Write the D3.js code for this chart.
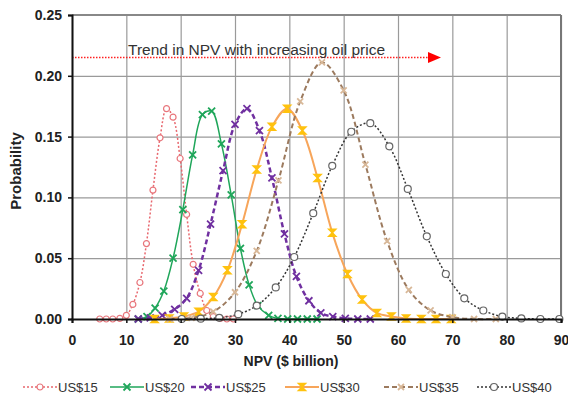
<!DOCTYPE html>
<html>
<head>
<meta charset="utf-8">
<script src="https://cdn.jsdelivr.net/npm/d3@7/dist/d3.min.js"></script>
<style>
  body { margin: 0; background: #fff; }
  text { font-family: "Liberation Sans", Arial, sans-serif; }
</style>
</head>
<body>
<div id="root"></div>
<script>
// data
const seriesNames = ["US$15", "US$20", "US$25", "US$30", "US$35", "US$40"];

const npv15  = [5.1, 6.3, 7.5, 8.8, 10.0, 11.2, 12.5, 13.7, 14.9, 16.2, 17.4, 18.6, 19.9, 21.1, 22.3, 23.6, 24.8, 26.0, 27.3, 28.5, 29.7];
const prob15 = [0, 0, 0, 0.0005, 0.003, 0.012, 0.030, 0.062, 0.106, 0.149, 0.173, 0.166, 0.132, 0.086, 0.045, 0.021, 0.007, 0.002, 0.0005, 0, 0];

const npv20  = [12.2, 13.8, 15.3, 16.9, 18.6, 20.4, 22.2, 24.0, 25.7, 27.5, 29.3, 31.0, 32.6, 34.2, 36.2, 37.9, 39.7, 41.5, 43.3, 45.1];
const prob20 = [0, 0.002, 0.009, 0.023, 0.050, 0.090, 0.135, 0.168, 0.171, 0.144, 0.102, 0.058, 0.028, 0.011, 0.003, 0.0005, 0, 0, 0, 0];

const npv25  = [12.2, 14.4, 16.6, 18.9, 21.1, 23.3, 25.5, 27.8, 30.0, 32.2, 34.5, 36.8, 39.1, 41.3, 43.6, 45.8, 48.0, 50.3, 52.6, 54.9];
const prob25 = [0, 0.001, 0.003, 0.008, 0.017, 0.040, 0.078, 0.122, 0.160, 0.173, 0.155, 0.116, 0.070, 0.035, 0.015, 0.005, 0.002, 0.0005, 0, 0];

const npv30  = [15.2, 17.9, 20.6, 23.3, 26.0, 28.6, 31.3, 34.0, 36.8, 39.6, 42.4, 45.2, 47.9, 50.7, 53.4, 56.1, 58.8, 61.5, 64.3, 67.0, 69.8];
const prob30 = [0, 0.0005, 0.002, 0.006, 0.018, 0.040, 0.078, 0.123, 0.158, 0.173, 0.155, 0.116, 0.071, 0.037, 0.016, 0.005, 0.002, 0.0005, 0, 0, 0];

const npv35  = [18, 22, 26, 30, 34, 38, 42, 46, 50, 54, 58, 62, 66, 70, 74, 78];
const prob35 = [0, 0.001, 0.006, 0.022, 0.056, 0.114, 0.179, 0.211, 0.188, 0.127, 0.064, 0.024, 0.007, 0.0015, 0, 0];

const npv40  = [20.2, 23.7, 27.1, 30.6, 34.0, 37.5, 40.9, 44.4, 47.9, 51.4, 54.9, 58.4, 61.8, 65.3, 68.8, 72.2, 75.7, 79.2, 82.7, 86.2, 89.7];
const prob40 = [0, 0.0003, 0.001, 0.004, 0.011, 0.026, 0.051, 0.087, 0.126, 0.154, 0.161, 0.142, 0.107, 0.068, 0.037, 0.017, 0.007, 0.002, 0.0005, 0, 0];

const xTicks = [0, 10, 20, 30, 40, 50, 60, 70, 80, 90];
const yTicks = [0, 0.05, 0.10, 0.15, 0.20, 0.25];
const trendLabel = "Trend in NPV with increasing oil price";
const trendLevel = 0.215;

const allX = [npv15, npv20, npv25, npv30, npv35, npv40];
const allY = [prob15, prob20, prob25, prob30, prob35, prob40];

// look of each series
const styles = [
  { line: "#e8676e", width: 1.5, dash: "2,2",  marker: "circle", mColor: "#e8767c", r: 3 },
  { line: "#1fa65a", width: 1.5, dash: null,   marker: "cross",  mColor: "#1fa65a", r: 3.5 },
  { line: "#7030a0", width: 2.5, dash: "5,3",  marker: "cross",  mColor: "#7030a0", r: 3.5 },
  { line: "#f7a55a", width: 2,   dash: null,   marker: "hour",   mColor: "#ffc20e", r: 3.5 },
  { line: "#9c7a5e", width: 2,   dash: "5,3",  marker: "cross",  mColor: "#d8b898", r: 3 },
  { line: "#333333", width: 1.5, dash: "2,2",  marker: "circle", mColor: "#666666", r: 3.5 }
];

const W = 568, H = 399;
const svg = d3.select("#root").append("svg")
  .attr("width", W).attr("height", H);

const x = d3.scaleLinear().domain([0, 90]).range([72, 561]);
const y = d3.scaleLinear().domain([0, 0.25]).range([319, 15]);

// grid
svg.append("g")
  .attr("transform", `translate(0,${y(0)})`)
  .call(d3.axisBottom(x).tickValues(xTicks).tickSize(-(y(0) - y(0.25))).tickFormat(""))
  .call(g => g.select(".domain").remove())
  .call(g => g.selectAll("line").attr("stroke", "#9a9a9a").attr("stroke-width", 1.2));
svg.append("g")
  .attr("transform", `translate(${x(0)},0)`)
  .call(d3.axisLeft(y).tickValues(yTicks).tickSize(-(x(90) - x(0))).tickFormat(""))
  .call(g => g.select(".domain").remove())
  .call(g => g.selectAll("line").attr("stroke", "#9a9a9a").attr("stroke-width", 1.2));

// frame top and right
svg.append("line").attr("x1", x(0)).attr("x2", x(90)).attr("y1", y(0.25)).attr("y2", y(0.25))
  .attr("stroke", "#888").attr("stroke-width", 2);
svg.append("line").attr("x1", x(90)).attr("x2", x(90)).attr("y1", y(0.25)).attr("y2", y(0))
  .attr("stroke", "#777").attr("stroke-width", 2);

// trend arrow
svg.append("line")
  .attr("x1", x(0)).attr("x2", 429)
  .attr("y1", y(trendLevel)).attr("y2", y(trendLevel))
  .attr("stroke", "#ff2020").attr("stroke-width", 1.5).attr("stroke-dasharray", "1.5,1.5");
svg.append("path")
  .attr("d", `M428,${y(trendLevel) - 5.5} L441,${y(trendLevel)} L428,${y(trendLevel) + 5.5} Z`)
  .attr("fill", "#ff0000");
svg.append("text")
  .attr("x", 128).attr("y", y(trendLevel) - 3)
  .attr("font-size", 15.5).attr("fill", "#333")
  .text(trendLabel);

// markers
function drawMarker(g, kind, color, r) {
  if (kind === "circle") {
    g.append("circle").attr("r", r).attr("fill", "#fff").attr("stroke", color).attr("stroke-width", 1.2);
  } else if (kind === "cross") {
    g.append("path").attr("d", `M${-r},${-r}L${r},${r}M${-r},${r}L${r},${-r}`)
      .attr("stroke", color).attr("stroke-width", 1.8).attr("fill", "none");
  } else {
    g.append("path").attr("d", `M${-r},${-r}H${r}L0,0L${r},${r}H${-r}L0,0Z`)
      .attr("fill", color).attr("stroke", color).attr("stroke-width", 1.5);
  }
}

const line = d3.line()
  .x(d => x(d[0]))
  .y(d => y(d[1]))
  .curve(d3.curveCatmullRom.alpha(0.5));

seriesNames.forEach((name, i) => {
  const st = styles[i];
  const pts = allX[i].map((v, j) => [v, allY[i][j]]);
  const g = svg.append("g").attr("class", "series");
  g.append("path")
    .attr("d", line(pts))
    .attr("fill", "none")
    .attr("stroke", st.line)
    .attr("stroke-width", st.width)
    .attr("stroke-dasharray", st.dash);
  g.selectAll(".mk").data(pts).enter().append("g")
    .attr("class", "mk")
    .attr("transform", d => `translate(${x(d[0])},${y(d[1])})`)
    .each(function () { drawMarker(d3.select(this), st.marker, st.mColor, st.r); });
});

// axes
const yAxis = svg.append("g")
  .attr("transform", `translate(${x(0)},0)`)
  .call(d3.axisLeft(y).tickValues(yTicks).tickFormat(d3.format(".2f")).tickSize(4).tickPadding(6));
const xAxis = svg.append("g")
  .attr("transform", `translate(0,${y(0)})`)
  .call(d3.axisBottom(x).tickValues(xTicks).tickFormat(d3.format("d")).tickSize(4).tickPadding(12));
[xAxis, yAxis].forEach(a => {
  a.select(".domain").attr("stroke", "#111").attr("stroke-width", 2);
  a.selectAll(".tick line").attr("stroke", "#111").attr("stroke-width", 1.5);
  a.selectAll("text").attr("font-size", 14).attr("font-weight", "bold").attr("fill", "#222")
    .attr("font-family", "'Liberation Sans', Arial, sans-serif");
});

// axis titles
svg.append("text")
  .attr("x", 291).attr("y", 366)
  .attr("text-anchor", "middle")
  .attr("font-size", 14).attr("font-weight", "bold").attr("fill", "#222")
  .text("NPV ($ billion)");
svg.append("text")
  .attr("transform", "translate(21,171) rotate(-90)")
  .attr("text-anchor", "middle")
  .attr("font-size", 15).attr("font-weight", "bold").attr("fill", "#222")
  .text("Probability");

// legend
const legendPos = [
  { x1: 23,  x2: 57 },
  { x1: 110, x2: 144 },
  { x1: 191, x2: 225 },
  { x1: 285, x2: 319 },
  { x1: 384, x2: 418 },
  { x1: 477, x2: 511 }
];
const legY = 387;
seriesNames.forEach((name, i) => {
  const st = styles[i], p = legendPos[i];
  const lg = svg.append("g").attr("class", "legend");
  lg.append("line")
    .attr("x1", p.x1).attr("x2", p.x2).attr("y1", legY).attr("y2", legY)
    .attr("stroke", st.line).attr("stroke-width", st.width)
    .attr("stroke-dasharray", st.dash);
  drawMarker(lg.append("g").attr("transform", `translate(${(p.x1 + p.x2) / 2},${legY})`), st.marker, st.mColor, st.r);
  lg.append("text")
    .attr("x", p.x2 + 1).attr("y", legY + 5)
    .attr("font-size", 13).attr("fill", "#333")
    .text(name);
});
</script>
</body>
</html>
